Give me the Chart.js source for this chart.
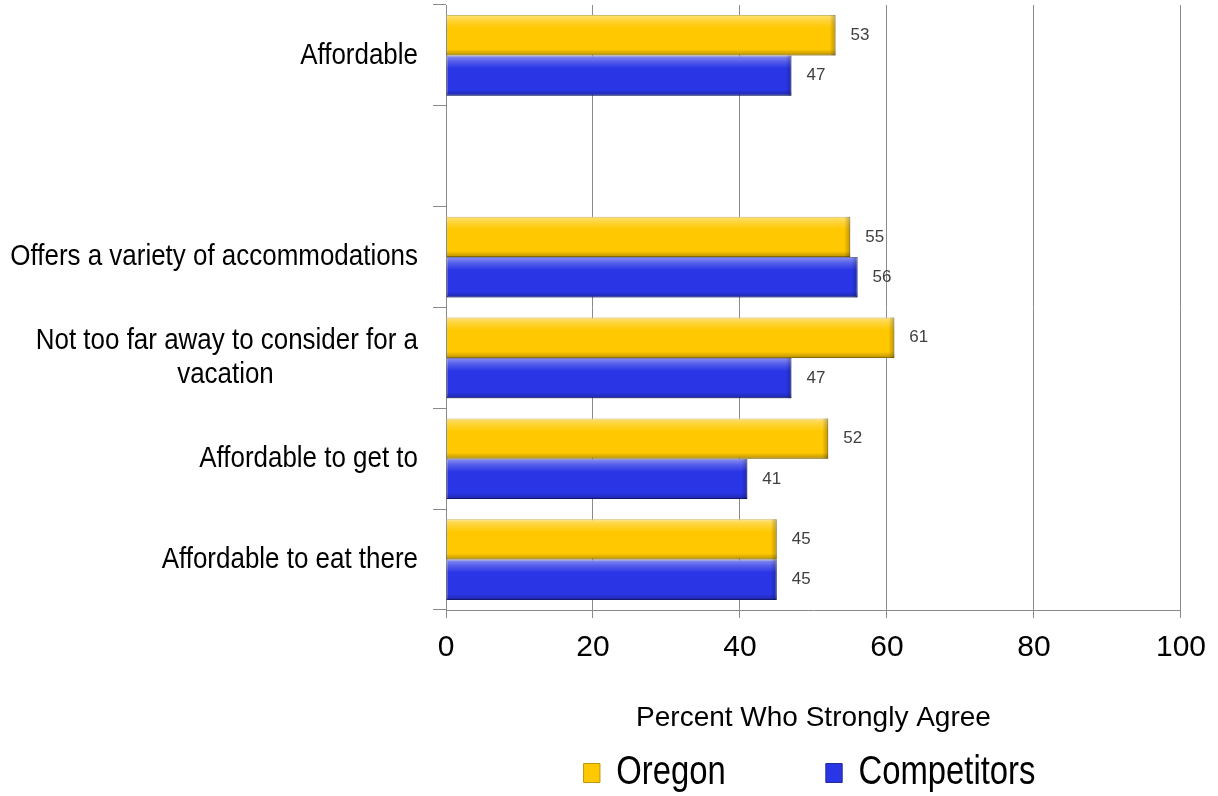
<!DOCTYPE html>
<html><head><meta charset="utf-8">
<script src="https://cdn.jsdelivr.net/npm/chart.js@4/dist/chart.umd.min.js"></script>
<style>html,body{margin:0;padding:0;background:#fff;} #wrap{width:1218px;height:796px;position:relative;}</style>
</head><body><div id="wrap"><canvas id="c"></canvas></div>
<script>
const categories = ["Affordable", "", "Offers a variety of accommodations", ["Not too far away to consider for a", "vacation"], "Affordable to get to", "Affordable to eat there"];
const oregonValues = [53, null, 55, 61, 52, 45];
const competitorValues = [47, null, 56, 47, 41, 45];
const xTickValues = [0, 20, 40, 60, 80, 100];
const seriesNames = ["Oregon", "Competitors"];
const axisTitle = "Percent Who Strongly Agree";

const FAMILY = "'Liberation Sans', Arial, sans-serif";
const catFont = {family: FAMILY, size: 30, lineHeight: 1.15};
const CAT_SQUEEZE = 0.865;
const LEGEND_SQUEEZE = 0.82;
const measureCtx = document.createElement('canvas').getContext('2d');

function squeeze(ctx, ax, k) {
  ctx.translate(ax, 0); ctx.scale(k, 1); ctx.translate(-ax, 0);
}

const barDecor = {
  id: 'barDecor',
  afterDatasetsDraw(chart) {
    const ctx = chart.ctx;
    chart.data.datasets.forEach((ds, di) => {
      const meta = chart.getDatasetMeta(di);
      meta.data.forEach((el, i) => {
        if (ds.data[i] == null) return;
        const {x, y, base, height} = el.getProps(['x', 'y', 'base', 'height'], true);
        const top = y - height / 2, left = Math.min(base, x), right = Math.max(base, x);
        ctx.save();
        const g = ctx.createLinearGradient(0, top, 0, top + height);
        g.addColorStop(0, 'rgba(255,255,255,0.45)');
        g.addColorStop(0.15, 'rgba(255,255,255,0.2)');
        g.addColorStop(0.32, 'rgba(255,255,255,0)');
        g.addColorStop(0.85, 'rgba(0,0,0,0)');
        g.addColorStop(1, 'rgba(0,0,0,0.28)');
        ctx.fillStyle = g;
        ctx.fillRect(left, top, right - left, height);
        const g2 = ctx.createLinearGradient(right - 6, 0, right, 0);
        g2.addColorStop(0, 'rgba(0,0,0,0)');
        g2.addColorStop(1, 'rgba(0,0,0,0.25)');
        ctx.fillStyle = g2;
        ctx.fillRect(right - 6, top, 6, height);
        ctx.restore();
        ctx.save();
        ctx.font = "17px " + FAMILY;
        ctx.fillStyle = '#404040';
        ctx.textBaseline = 'middle';
        ctx.textAlign = 'left';
        ctx.fillText(String(ds.data[i]), right + 15, y);
        ctx.restore();
      });
    });
  }
};

const layoutTweaks = {
  id: 'layoutTweaks',
  afterLayout(chart) {
    const lg = chart.legend;
    if (lg) {
      const ca = chart.chartArea;
      const cx = (ca.left + ca.right) / 2 - 4;
      const w = lg.width;
      lg.left = cx - w / 2; lg.right = lg.left + w;
      const pad = lg.options.labels.padding, fs = lg.options.labels.font.size;
      lg.top = 773 - fs / 2 - pad; lg.bottom = 796; lg.height = lg.bottom - lg.top;
      if (!lg.__sq) {
        const od = lg.draw;
        lg.draw = function () {
          const c = this.ctx; c.save(); squeeze(c, (this.left + this.right) / 2, LEGEND_SQUEEZE);
          const L = this.left, R = this.right;
          const ax = (L + R) / 2;
          this.left = ax - (ax - L) / LEGEND_SQUEEZE; this.right = ax + (R - ax) / LEGEND_SQUEEZE;
          od.call(this);
          this.left = L; this.right = R;
          c.restore();
        };
        lg.__sq = true;
      }
    }
    const ys = chart.scales.y;
    if (ys && !ys.__sq) {
      const odl = ys.drawLabels;
      ys.drawLabels = function (area) {
        const c = this.ctx; c.save();
        squeeze(c, this.right - this.options.grid.tickLength - this.options.ticks.padding, CAT_SQUEEZE);
        const L = this.left;
        this.left = -3000;
        odl.call(this, area);
        this.left = L;
        c.restore();
      };
      ys.__sq = true;
    }
  }
};

new Chart(document.getElementById('c'), {
  type: 'bar',
  data: {
    labels: categories,
    datasets: [
      {label: seriesNames[0], data: oregonValues, backgroundColor: '#FFC800', borderColor: '#B88E00', borderWidth: 1, borderSkipped: false},
      {label: seriesNames[1], data: competitorValues, backgroundColor: '#2A36E6', borderColor: '#18208E', borderWidth: 1, borderSkipped: false}
    ]
  },
  options: {
    indexAxis: 'y',
    responsive: true,
    maintainAspectRatio: false,
    animation: false,
    devicePixelRatio: 1,
    layout: {padding: {top: 5, right: 7, bottom: 0, left: 0}},
    datasets: {bar: {categoryPercentage: 0.8, barPercentage: 1.0}},
    scales: {
      y: {
        afterFit(s) { s.width = 446; s.paddingTop = 0; s.paddingBottom = 0; },
        grid: {drawOnChartArea: false, drawTicks: true, tickLength: 13, color: '#8a8a8a'},
        border: {color: '#8a8a8a'},
        ticks: {
          padding: 15, color: '#000', font: catFont, autoSkip: false,
          callback(v) {
            const lab = this.getLabelForValue(v);
            if (Array.isArray(lab)) {
              measureCtx.font = catFont.size + 'px ' + catFont.family;
              const w0 = measureCtx.measureText(lab[0]).width;
              const w1 = measureCtx.measureText(lab[1]).width;
              const sp = measureCtx.measureText(' ').width;
              const n = Math.round((w0 - w1) / 2 / sp);
              return [lab[0], lab[1] + ' '.repeat(n)];
            }
            return lab;
          }
        }
      },
      x: {
        min: 0, max: 100,
        afterBuildTicks(s) { s.ticks = xTickValues.map(v => ({value: v})); },
        afterFit(s) { s.height = 136; },
        grid: {color: '#8a8a8a', tickLength: 8},
        border: {color: '#8a8a8a'},
        ticks: {padding: 12, color: '#000', font: {family: FAMILY, size: 30}},
        title: {display: true, text: axisTitle, color: '#000', padding: {top: 0, bottom: 11}, font: {family: FAMILY, size: 28}}
      }
    },
    plugins: {
      tooltip: {enabled: false},
      legend: {
        position: 'bottom', maxHeight: 50,
        labels: {color: '#000', boxWidth: 20, boxHeight: 19, padding: 122, font: {family: FAMILY, size: 40}}
      }
    }
  },
  plugins: [barDecor, layoutTweaks]
});
</script></body></html>
